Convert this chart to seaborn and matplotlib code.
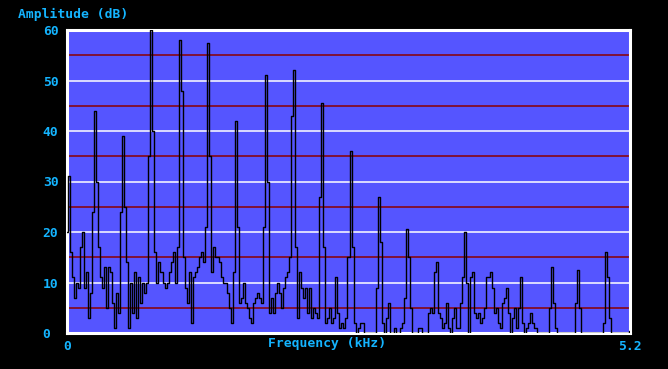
import numpy as np
import pandas as pd
import seaborn as sns
import matplotlib.pyplot as plt

# spectrum samples (dB), one every ~0.0186 kHz from 0 to 5.2 kHz
amp_0 = [20, 31, 16, 11, 7, 10, 9, 17, 20, 9, 12, 3, 8, 24, 44, 30, 17, 11, 9, 13,
         5, 13, 12, 6, 1, 8, 4, 24, 39, 25, 14, 1, 10, 4, 12, 3, 11, 6, 10, 8,
         10, 35, 60, 40, 16, 10, 14]
amp_1 = [12, 10, 9, 10, 12, 14, 16, 10, 17, 58, 48, 15, 9, 6, 12, 2, 11, 12, 13, 15,
         16, 14, 21, 57.5, 35, 12, 17, 15, 15, 14, 11, 10, 10, 8, 5, 2, 12, 42, 21, 6,
         7, 10, 6, 5, 3, 2]
amp_2 = [6, 7, 8, 7, 6, 21, 51, 30, 4, 7, 4, 8, 10, 8, 5, 9, 11, 12, 15, 43,
         52, 17, 3, 12, 9, 7, 9, 4, 9, 3, 5, 4, 3, 27, 45.5, 17, 2, 3, 5, 2,
         3, 11, 4, 1, 2, 1, 3]
amp_3 = [15, 36, 17, 2, 0, 1, 2, 2, 0, 0, 0, 0, 0, 0, 9, 27, 18, 2, 0, 3,
         6, 0, 0, 1, 0, 0, 1, 2, 7, 20.5, 15, 5, 0, 0, 0, 1, 1, 0, 0, 0,
         4, 5, 4, 12, 14, 4, 3, 1]
amp_4 = [2, 6, 1, 0, 3, 5, 1, 1, 6, 11, 20, 10, 0, 11, 12, 4, 3, 4, 2, 3,
         5, 11, 11, 12, 9, 4, 5, 2, 1, 6, 7, 9, 4, 0, 3, 5, 1, 5, 11, 2,
         0, 1, 2, 4, 2, 1, 0]
amp_5 = [0, 0, 0, 0, 0, 5, 13, 6, 1, 0, 0, 0, 0, 0, 0, 0, 0, 0, 6, 12.5,
         5, 0, 0, 0, 0, 0, 0, 0, 0, 0, 0, 0, 2, 16, 11, 3, 0, 0, 0, 0,
         0, 0, 0, 0, 0, 0.3]

amplitude = amp_0 + amp_1 + amp_2 + amp_3 + amp_4 + amp_5
freq_step = 5.2 / 280
frequency = [i * freq_step for i in range(len(amplitude))]

major_levels = [10, 20, 30, 40, 50]
minor_levels = [5, 15, 25, 35, 45, 55]
y_ticks = [0, 10, 20, 30, 40, 50, 60]
x_ticks = [0, 5.2]
x_tick_labels = ['0', '5.2']

df = pd.DataFrame({'Frequency (kHz)': frequency, 'Amplitude (dB)': amplitude})

cyan = '#14B4FF'
font = dict(family='DejaVu Sans Mono', weight='bold', size=9.4)

fig = plt.figure(figsize=(6.68, 3.69), dpi=100, facecolor='black')
W, H = 668, 369
ax = fig.add_axes([67 / W, 1 - 333 / H, (630 - 67) / W, (333 - 30) / H])
ax.set_facecolor('#5555FF')

for lv in minor_levels:
    ax.axhline(lv, color='#8B0000', lw=1.1, zorder=1)
for lv in major_levels:
    ax.axhline(lv, color='white', lw=1.1, zorder=1)

sns.lineplot(data=df, x='Frequency (kHz)', y='Amplitude (dB)', ax=ax,
             color='black', lw=1.0, drawstyle='steps-mid', zorder=3)

ax.set_xlim(0, 5.2)
ax.set_ylim(0, 60)
for s in ax.spines.values():
    s.set_color('white')
    s.set_linewidth(2.2)

ax.set_yticks(y_ticks)
ax.set_yticklabels([str(t) for t in y_ticks], color=cyan, fontdict=font, ha='left')
ax.tick_params(axis='y', length=0, pad=17.5)
ax.set_xticks(x_ticks)
ax.set_xticklabels(x_tick_labels, color=cyan, fontdict=font)
ax.tick_params(axis='x', length=0, pad=5)
ax.set_xlabel('')
ax.set_ylabel('')

fig.text(18 / W, 1 - 14 / H, 'Amplitude (dB)', color=cyan, ha='left', va='center', **font)
fig.text(327 / W, 1 - 344 / H, 'Frequency (kHz)', color=cyan, ha='center', va='center', **font)

fig.savefig('out.png', dpi=100, facecolor='black')
